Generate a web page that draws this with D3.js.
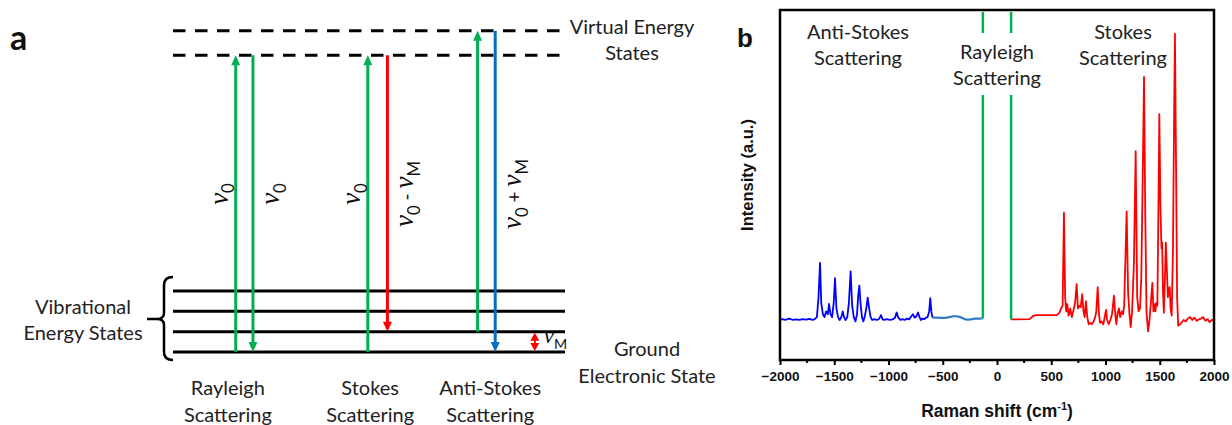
<!DOCTYPE html>
<html>
<head>
<meta charset="utf-8">
<script src="https://cdn.jsdelivr.net/npm/d3@7"></script>
<style>
    body { margin: 0; background: #fff; }
    svg { display: block; }
    .lbl { font-family: Lato, "Open Sans", sans-serif; font-size: 20px; fill: #222; }
</style>
</head>
<body>
<svg width="1232" height="425"></svg>
<script>
// ---------------- panel a : energy diagram ----------------
const vibrationalLevels = [0, 1, 2, 3];
const virtualLevels = [14.6, 15.8];
// arrows (start level, end level, position across the level lines 0-100, colour)
const arrowFrom = [0, 14.6, 0, 14.6, 1, 15.8];
const arrowTo = [14.6, 0, 14.6, 1, 15.8, 0];
const arrowPos = [16.0, 20.4, 49.7, 54.7, 77.7, 82.2];
const arrowColor = ['#00b050', '#00b050', '#00b050', '#ff0000', '#00b050', '#0070c0'];
// rotated labels next to each arrow, [symbol, subscript] or operator
const arrowLabels = [
    [['ν', '0']],
    [['ν', '0']],
    [['ν', '0']],
    [['ν', '0'], [' - '], ['ν', 'M']],
    null,
    [['ν', '0'], [' + '], ['ν', 'M']]
];
const scatterNames = [['Rayleigh', 'Scattering'], ['Stokes', 'Scattering'], ['Anti-Stokes', 'Scattering']];
const scatterPos = [14.0, 50.3, 80.9];

// ---------------- panel b : Raman spectrum ----------------
const antiStokesShift = [-2000, -1980, -1950, -1920, -1900, -1880, -1850, -1820, -1790, -1760, -1730, -1700, -1680, -1660, -1645, -1631, -1620, -1605, -1590, -1575, -1560, -1548, -1535, -1520, -1505, -1493, -1480, -1465, -1450, -1435, -1422, -1410, -1395, -1380, -1365, -1349, -1335, -1320, -1305, -1290, -1280, -1269, -1258, -1245, -1232, -1220, -1205, -1192, -1178, -1165, -1150, -1130, -1110, -1090, -1069, -1055, -1040, -1010, -990, -960, -940, -925, -910, -890, -870, -850, -830, -810, -790, -774, -760, -745, -728, -715, -700, -685, -670, -655, -640, -625, -615, -605, -595];
const antiStokesIntensity = [0, 0.3, 0, 0.5, 0.3, 0, 0.2, 0, 0.3, 0.1, 0.4, 0, 0.3, 1, 8, 20, 6, 2, 1, 3, 2, 5.6, 2, 1, 6, 14.6, 4, 1, 0, 1, 3, 1, 0, 1, 6, 17, 5, 1, -0.5, 2, 8, 12, 6, 1, -0.5, 1, 4, 7.8, 4, 1, 0, 0.3, 0, 0.2, 1.7, 0.2, 0, 0.3, 0, 0.2, 0.8, 2.6, 0.8, 0, 0.3, 0, 0.5, 0.2, 1.3, 2, 0.8, 1.2, 2.6, 1, 0, 0.5, 0.3, 0.8, 1, 3, 7.6, 3, 0.8];
const tailShift = [-595, -560, -520, -480, -440, -400, -370, -340, -300, -270, -240, -200, -160, -130];
const tailIntensity = [0.8, 0.8, 0.7, 0.7, 1, 1.3, 1.3, 1, 0.3, 0.1, 0.2, 0.5, 0.5, 0.6];
const stokesShift = [130, 300, 333, 360, 550, 575, 590, 605, 617, 628, 638, 648, 660, 675, 690, 705, 720, 734, 746, 760, 772, 785, 797, 808, 820, 832, 845, 860, 875, 890, 905, 915, 928, 940, 950, 965, 980, 995, 1005, 1015, 1030, 1045, 1060, 1078, 1090, 1100, 1112, 1124, 1135, 1150, 1162, 1172, 1195, 1208, 1220, 1232, 1245, 1262, 1278, 1292, 1305, 1318, 1330, 1343, 1355, 1367, 1378, 1392, 1403, 1414, 1422, 1432, 1442, 1452, 1460, 1468, 1478, 1488, 1496, 1506, 1516, 1522, 1530, 1538, 1548, 1556, 1565, 1575, 1585, 1592, 1600, 1610, 1622, 1632, 1640, 1650, 1660, 1670, 1687, 1700, 1720, 1740, 1760, 1780, 1800, 1820, 1840, 1860, 1880, 1900, 1920, 1940, 1960, 1980, 2000];
const stokesIntensity = [0.2, 0.3, 1.4, 1.7, 1.7, 2.5, 4, 5, 37.5, 8, 3, 5.5, 1.5, 4, 1, 3.5, 6, 12.5, 4, 5, 4.5, 9, 3, 1, 6.5, 1, -1.5, -1, -1.5, -0.5, 1, 3, 11.5, 2, -1, -0.5, -1.5, 1.5, 3.5, 0, -1.5, 0, 2, 8.5, 2, -1.5, 2.5, 4, 1, 3, 2, 5, 38, 10, 2.5, -2.5, 3, 20, 59, 8, 3, 4, 15, 50, 85, 35, 3, -4, -1, 4, 8, 13, 3, 5.5, 3, 6, 5, 40, 72, 40, 25, 27, 10, 2.5, 15, 27, 18, 8, 11, 11.5, 4, 1.5, 25, 70, 100, 55, 8, -2, -1.5, -1, 0, -0.5, 0.5, 1, 0, 0.8, -0.3, 0.2, 0.5, 1, -0.3, 0.3, -0.8, 0, -0.2];
const rayleighShift = [-130, 130];
const rayleighBase = [0.6, 0.2];
const xTicks = [-2000, -1500, -1000, -500, 0, 500, 1000, 1500, 2000];
const xMinorTicks = [-1750, -1250, -750, -250, 250, 750, 1250, 1750];

const svg = d3.select('svg');
const GREEN = '#00b050';
const AXIS_FONT = '"Liberation Sans", Arial, sans-serif';

// ======================= panel a =======================
const energyY = d3.scaleLinear().domain([0, 3]).range([352, 291]);
const posX = d3.scaleLinear().domain([0, 100]).range([173, 565]);
const panelA = svg.append('g');

// level lines
panelA.selectAll('.vib').data(vibrationalLevels).join('line')
    .attr('x1', posX(0)).attr('x2', posX(100))
    .attr('y1', d => energyY(d)).attr('y2', d => energyY(d))
    .attr('stroke', '#000').attr('stroke-width', 3);

panelA.selectAll('.virt').data(virtualLevels).join('line')
    .attr('x1', posX(0)).attr('x2', posX(99.2))
    .attr('y1', d => energyY(d)).attr('y2', d => energyY(d))
    .attr('stroke', '#000').attr('stroke-width', 3)
    .attr('stroke-dasharray', '12.5,9.5');

// arrows
const headLen = 10, headW = 4.5;
arrowFrom.forEach((from, i) => {
    const x = posX(arrowPos[i]);
    const y0 = energyY(from), y1 = energyY(arrowTo[i]);
    const dir = y1 < y0 ? -1 : 1; // -1 going up
    panelA.append('line')
        .attr('x1', x).attr('x2', x)
        .attr('y1', y0).attr('y2', y1 - dir * headLen + dir)
        .attr('stroke', arrowColor[i]).attr('stroke-width', 3);
    panelA.append('path')
        .attr('d', `M${x},${y1} L${x - headW},${y1 - dir * headLen} L${x + headW},${y1 - dir * headLen} Z`)
        .attr('fill', arrowColor[i]);
});

// double arrow for nu_M
{
    const x = posX(92.3);
    const yTop = energyY(1), yBot = energyY(0);
    panelA.append('line').attr('x1', x).attr('x2', x)
        .attr('y1', yTop + 7).attr('y2', yBot - 7)
        .attr('stroke', '#ff0000').attr('stroke-width', 2);
    panelA.append('path')
        .attr('d', `M${x},${yTop + 1} L${x - 4.5},${yTop + 9} L${x + 4.5},${yTop + 9} Z M${x},${yBot - 1} L${x - 4.5},${yBot - 9} L${x + 4.5},${yBot - 9} Z`)
        .attr('fill', '#ff0000');
}

// text with nu symbols and subscripts
function nuText(parent, parts, size) {
    const t = parent.append('text').attr('text-anchor', 'middle').attr('fill', '#111');
    let off = 0;
    parts.forEach(p => {
        if (p.length === 2) {
            t.append('tspan').attr('dy', -off).attr('font-family', '"Liberation Serif", "DejaVu Serif", serif')
                .attr('font-style', 'italic').attr('font-size', size).text(p[0]);
            const sub = size * 0.25;
            t.append('tspan').attr('dy', sub).attr('font-family', 'Lato, sans-serif')
                .attr('font-size', size * 0.62).text(p[1]);
            off = sub;
        } else {
            t.append('tspan').attr('dy', -off).attr('font-family', 'Lato, sans-serif')
                .attr('font-size', size * 0.7).text(p[0]);
            off = 0;
        }
    });
    return t;
}

arrowLabels.forEach((parts, i) => {
    if (!parts) return;
    const up = arrowTo[i] > arrowFrom[i];
    const x = posX(arrowPos[i]) + (up ? -8 : 26);
    const g = panelA.append('g').attr('transform', `translate(${x},194) rotate(-90)`);
    nuText(g, parts, 27);
});

// nu_M label
nuText(panelA.append('g').attr('transform', `translate(${posX(92.3) + 9},343)`), [['ν', 'M']], 23)
    .attr('text-anchor', 'start');

// bracket for vibrational states
panelA.append('path')
    .attr('d', 'M173,277 Q164,277 164,285 V313 Q164,319 157,319 H147 M157,319 Q164,319 164,325 V352 Q164,360 173,360')
    .attr('fill', 'none').attr('stroke', '#000').attr('stroke-width', 2.5);

function twoLine(parent, lines, x, y, gap) {
    const t = parent.append('text').attr('class', 'lbl').attr('text-anchor', 'middle');
    lines.forEach((s, i) => t.append('tspan').attr('x', x).attr('y', y + i * gap).text(s));
    return t;
}

twoLine(panelA, ['Vibrational', 'Energy States'], 83, 314, 26);
twoLine(panelA, ['Virtual Energy', 'States'], 632, 34, 26);
twoLine(panelA, ['Ground', 'Electronic State'], 647, 356, 27);
scatterNames.forEach((n, i) => twoLine(panelA, n, posX(scatterPos[i]), 395, 27));

panelA.append('text').attr('x', 10).attr('y', 50)
    .attr('font-family', 'Lato, sans-serif').attr('font-weight', 'bold')
    .attr('font-size', 34).attr('fill', '#111').text('a');

// ======================= panel b =======================
const margin = { left: 780, top: 10, right: 1214, bottom: 360 };
const xScale = d3.scaleLinear().domain([-2000, 2000]).range([margin.left, margin.right]);
const yScale = d3.scaleLinear().domain([-14, 108.4]).range([margin.bottom, margin.top]);
const panelB = svg.append('g');

const line = d3.line().x(d => xScale(d[0])).y(d => yScale(d[1]));
const zip = (a, b) => a.map((v, i) => [v, b[i]]);

panelB.append('path').datum(zip(antiStokesShift, antiStokesIntensity))
    .attr('d', line).attr('fill', 'none').attr('stroke', '#0000ff').attr('stroke-width', 1.8)
    .attr('stroke-linejoin', 'round');
panelB.append('path').datum(zip(tailShift, tailIntensity))
    .attr('d', line).attr('fill', 'none').attr('stroke', '#2a7cc6').attr('stroke-width', 2.2)
    .attr('stroke-linejoin', 'round');
panelB.append('path').datum(zip(stokesShift, stokesIntensity))
    .attr('d', line).attr('fill', 'none').attr('stroke', '#ff0000').attr('stroke-width', 1.8)
    .attr('stroke-linejoin', 'round');

// Rayleigh lines
panelB.selectAll('.ray').data(rayleighShift).join('line')
    .attr('x1', d => xScale(d)).attr('x2', d => xScale(d))
    .attr('y1', (d, i) => yScale(rayleighBase[i])).attr('y2', margin.top + 2)
    .attr('stroke', GREEN).attr('stroke-width', 2.5);

// label boxes
panelB.append('rect').attr('x', 953).attr('y', 33).attr('width', 89).attr('height', 62).attr('fill', '#fff');
twoLine(panelB, ['Anti-Stokes', 'Scattering'], 858, 39, 26);
twoLine(panelB, ['Rayleigh', 'Scattering'], 997, 59, 26);
twoLine(panelB, ['Stokes', 'Scattering'], 1123, 39, 26);

// frame
panelB.append('rect')
    .attr('x', margin.left).attr('y', margin.top)
    .attr('width', margin.right - margin.left).attr('height', margin.bottom - margin.top)
    .attr('fill', 'none').attr('stroke', '#000').attr('stroke-width', 2.5);

// x axis
const xAxis = d3.axisBottom(xScale).tickValues(xTicks).tickFormat(d3.format('d'))
    .tickSize(5).tickPadding(6);
const axG = panelB.append('g').attr('transform', `translate(0,${margin.bottom})`).call(xAxis);
axG.select('.domain').remove();
axG.selectAll('.tick line').attr('stroke', '#000').attr('stroke-width', 2);
axG.selectAll('.tick text')
    .style('font-family', AXIS_FONT).style('font-weight', 'bold')
    .style('font-size', '13.5px').style('fill', '#111');
panelB.append('g').selectAll('line').data(xMinorTicks).join('line')
    .attr('x1', d => xScale(d)).attr('x2', d => xScale(d))
    .attr('y1', margin.bottom).attr('y2', margin.bottom + 3)
    .attr('stroke', '#000').attr('stroke-width', 2);

const xt = panelB.append('text')
    .style('font-family', AXIS_FONT).style('font-weight', 'bold').style('font-size', '17.5px')
    .attr('fill', '#111').attr('x', xScale(0)).attr('y', 417).attr('text-anchor', 'middle');
xt.append('tspan').text('Raman shift (cm');
xt.append('tspan').style('font-size', '11px').attr('dy', -7).text('-1');
xt.append('tspan').attr('dy', 7).text(')');

panelB.append('text')
    .style('font-family', AXIS_FONT).style('font-weight', 'bold').style('font-size', '16.5px')
    .attr('fill', '#111')
    .attr('transform', `translate(753,175) rotate(-90)`).attr('text-anchor', 'middle')
    .text('Intensity (a.u.)');

panelB.append('text').attr('x', 737).attr('y', 47)
    .style('font-family', AXIS_FONT).style('font-weight', 'bold')
    .style('font-size', '26px').attr('fill', '#111').text('b');
</script>
</body>
</html>
